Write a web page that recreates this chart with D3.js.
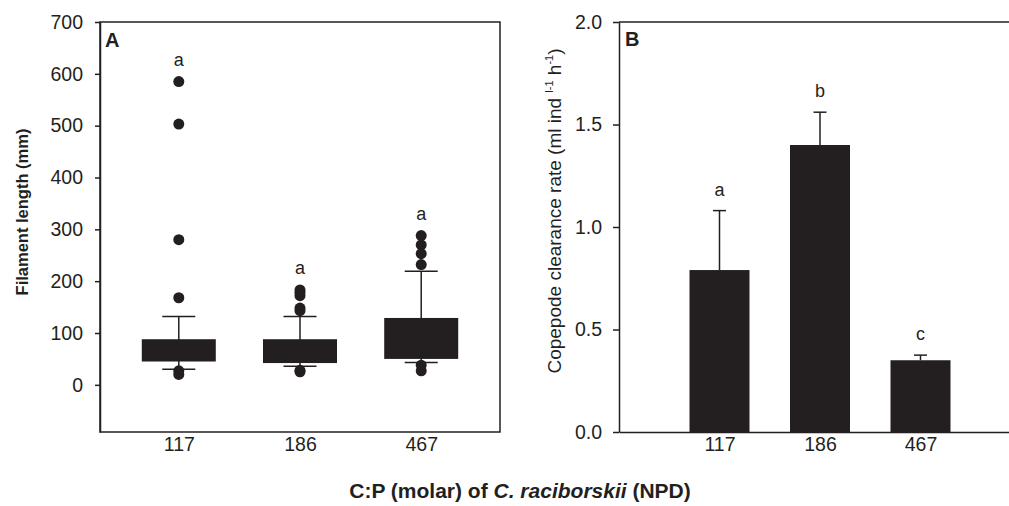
<!DOCTYPE html>
<html>
<head>
<meta charset="utf-8">
<script src="https://cdn.jsdelivr.net/npm/d3@7"></script>
<style>
  body { margin: 0; background: #fff; }
  svg text { font-family: "Liberation Sans", Arial, Helvetica, sans-serif; fill: #231f20; }
  .domain, .tick line { stroke: #231f20; stroke-width: 1.5; }
</style>
</head>
<body>
<div id="chart"></div>
<script>
// categories (C:P molar ratio)
var ratios = ["117", "186", "467"];

// panel A - filament length box plots (mm)
var whiskerLow = [30, 36, 43];
var boxLow = [45, 42, 50];
var boxHigh = [88, 88, 129];
var whiskerHigh = [132, 132, 219];
var outliers = [
  [585, 503, 280, 168, 27, 20],
  [183, 178, 172, 148, 143, 28, 25],
  [288, 270, 253, 232, 38, 27]
];
var lettersA = ["a", "a", "a"];
var ticksA = [0, 100, 200, 300, 400, 500, 600, 700];

// panel B - copepode clearance rate
var clearance = [0.79, 1.40, 0.35];
var clearanceErr = [0.29, 0.16, 0.025];
var lettersB = ["a", "b", "c"];
var ticksB = [0.0, 0.5, 1.0, 1.5, 2.0];

var svgWidth = 1009;
var svgHeight = 506;
var dark = "#231f20";
var tickFont = "19.5px";

var svg = d3.select("#chart")
  .append("svg")
  .attr("width", svgWidth)
  .attr("height", svgHeight);

// ---------- Panel A ----------
var xA = d3.scaleLinear().domain([0.35, 3.65]).range([100, 500]);
var yA = d3.scaleLinear().domain([-91, 700]).range([432, 22]);

var gA = svg.append("g");

gA.append("rect")
  .attr("x", 100).attr("y", 22)
  .attr("width", 400).attr("height", 410)
  .attr("fill", "none")
  .attr("stroke", dark)
  .attr("stroke-width", 1.5);

gA.append("g")
  .attr("transform", "translate(100,0)")
  .call(d3.axisLeft(yA).tickValues(ticksA).tickSize(5).tickPadding(12).tickSizeOuter(0))
  .call(g => g.selectAll("text").style("font-size", tickFont));

gA.append("g")
  .attr("transform", "translate(0,432)")
  .call(d3.axisBottom(xA).tickValues([1, 2, 3]).tickFormat((d, i) => ratios[i]).tickSize(0).tickPadding(5).tickSizeOuter(0))
  .call(g => g.selectAll("text").style("font-size", tickFont))
  .call(g => g.select(".domain").remove());

var boxW = 74, capA = 33;
var boxes = gA.selectAll(".box")
  .data(ratios)
  .enter()
  .append("g")
  .attr("class", "box");

// whiskers
boxes.append("line")
  .attr("x1", (d, i) => xA(i + 1)).attr("x2", (d, i) => xA(i + 1))
  .attr("y1", (d, i) => yA(whiskerLow[i])).attr("y2", (d, i) => yA(whiskerHigh[i]))
  .attr("stroke", dark).attr("stroke-width", 1.5);
boxes.append("line")
  .attr("x1", (d, i) => xA(i + 1) - capA / 2).attr("x2", (d, i) => xA(i + 1) + capA / 2)
  .attr("y1", (d, i) => yA(whiskerHigh[i])).attr("y2", (d, i) => yA(whiskerHigh[i]))
  .attr("stroke", dark).attr("stroke-width", 1.5);
boxes.append("line")
  .attr("x1", (d, i) => xA(i + 1) - capA / 2).attr("x2", (d, i) => xA(i + 1) + capA / 2)
  .attr("y1", (d, i) => yA(whiskerLow[i])).attr("y2", (d, i) => yA(whiskerLow[i]))
  .attr("stroke", dark).attr("stroke-width", 1.5);

boxes.append("rect")
  .attr("x", (d, i) => xA(i + 1) - boxW / 2)
  .attr("width", boxW)
  .attr("y", (d, i) => yA(boxHigh[i]))
  .attr("height", (d, i) => yA(boxLow[i]) - yA(boxHigh[i]))
  .attr("fill", dark);

boxes.each(function(d, i) {
  d3.select(this).selectAll("circle")
    .data(outliers[i])
    .enter()
    .append("circle")
    .attr("cx", xA(i + 1))
    .attr("cy", v => yA(v))
    .attr("r", 5.5)
    .attr("fill", dark);
});

boxes.append("text")
  .attr("x", (d, i) => xA(i + 1))
  .attr("y", (d, i) => yA(d3.max(outliers[i])) - 16)
  .attr("text-anchor", "middle")
  .style("font-size", "18px")
  .text((d, i) => lettersA[i]);

gA.append("text")
  .attr("x", 105).attr("y", 47)
  .style("font-size", "20px").style("font-weight", "bold")
  .text("A");

gA.append("text")
  .attr("transform", "translate(28,212) rotate(-90)")
  .attr("text-anchor", "middle")
  .style("font-size", "16.5px").style("font-weight", "bold")
  .text("Filament length (mm)");

// ---------- Panel B ----------
var xB = d3.scaleLinear().domain([0, 4]).range([619, 1021]);
var yB = d3.scaleLinear().domain([0, 2]).range([432, 22]);

var gB = svg.append("g");

gB.append("line")
  .attr("x1", 619).attr("x2", 1021)
  .attr("y1", 22).attr("y2", 22)
  .attr("stroke", dark).attr("stroke-width", 1.5);

gB.append("g")
  .attr("transform", "translate(619,0)")
  .call(d3.axisLeft(yB).tickValues(ticksB).tickFormat(d3.format(".1f")).tickSize(6).tickPadding(11).tickSizeOuter(0))
  .call(g => g.selectAll("text").style("font-size", tickFont));

gB.append("g")
  .attr("transform", "translate(0,432)")
  .call(d3.axisBottom(xB).tickValues([1, 2, 3]).tickFormat((d, i) => ratios[i]).tickSize(0).tickPadding(5).tickSizeOuter(0))
  .call(g => g.selectAll("text").style("font-size", tickFont));

var barW = 60, capB = 13;
var bars = gB.selectAll(".bar")
  .data(ratios)
  .enter()
  .append("g")
  .attr("class", "bar");

bars.append("line")
  .attr("x1", (d, i) => xB(i + 1)).attr("x2", (d, i) => xB(i + 1))
  .attr("y1", (d, i) => yB(clearance[i])).attr("y2", (d, i) => yB(clearance[i] + clearanceErr[i]))
  .attr("stroke", dark).attr("stroke-width", 1.5);
bars.append("line")
  .attr("x1", (d, i) => xB(i + 1) - capB / 2).attr("x2", (d, i) => xB(i + 1) + capB / 2)
  .attr("y1", (d, i) => yB(clearance[i] + clearanceErr[i])).attr("y2", (d, i) => yB(clearance[i] + clearanceErr[i]))
  .attr("stroke", dark).attr("stroke-width", 1.5);

bars.append("rect")
  .attr("x", (d, i) => xB(i + 1) - barW / 2)
  .attr("width", barW)
  .attr("y", (d, i) => yB(clearance[i]))
  .attr("height", (d, i) => yB(0) - yB(clearance[i]))
  .attr("fill", dark);

bars.append("text")
  .attr("x", (d, i) => xB(i + 1))
  .attr("y", (d, i) => yB(clearance[i] + clearanceErr[i]) - 15)
  .attr("text-anchor", "middle")
  .style("font-size", "18px")
  .text((d, i) => lettersB[i]);

gB.append("text")
  .attr("x", 625).attr("y", 46)
  .style("font-size", "20px").style("font-weight", "bold")
  .text("B");

var labelB = gB.append("text")
  .attr("transform", "translate(561,211) rotate(-90)")
  .attr("text-anchor", "middle")
  .style("font-size", "19px");
labelB.append("tspan").text("Copepode clearance rate (ml ind ");
labelB.append("tspan").attr("dy", -8).style("font-size", "11px").text("l-1");
labelB.append("tspan").attr("dy", 8).text(" h");
labelB.append("tspan").attr("dy", -8).style("font-size", "11px").text("-1");
labelB.append("tspan").attr("dy", 8).text(")");

// shared x title
var xTitle = svg.append("text")
  .attr("x", 520).attr("y", 498)
  .attr("text-anchor", "middle")
  .style("font-size", "21px").style("font-weight", "bold");
xTitle.append("tspan").text("C:P (molar) of ");
xTitle.append("tspan").style("font-style", "italic").text("C. raciborskii");
xTitle.append("tspan").text(" (NPD)");
</script>
</body>
</html>
